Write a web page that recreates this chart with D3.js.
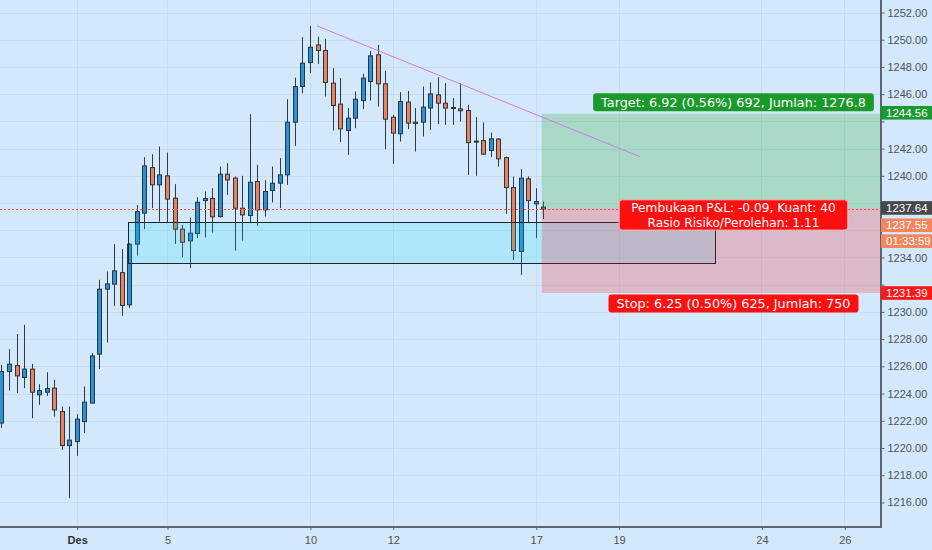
<!DOCTYPE html>
<html><head><meta charset="utf-8">
<script src="https://cdn.jsdelivr.net/npm/d3@7"></script>
<style>html,body{margin:0;padding:0;background:#d4e8fb;overflow:hidden}svg{display:block}</style>
</head><body><svg id="c" width="932" height="550"></svg>
<script>
// ---- data (4h candles, index 0 = first visible bar) ----
const opens  = [1221.83,1225.62,1226.06,1225.18,1225.80,1223.91,1224.10,1224.40,1222.68,1220.18,1220.47,1221.94,1223.30,1226.90,1231.67,1232.04,1232.89,1230.52,1234.98,1237.26,1240.61,1239.34,1240.00,1238.36,1236.08,1235.22,1235.76,1238.18,1238.33,1237.01,1240.12,1239.83,1237.62,1237.08,1239.58,1237.50,1238.92,1239.46,1240.07,1243.94,1246.56,1248.32,1249.62,1249.21,1246.81,1245.27,1243.33,1244.24,1245.53,1246.93,1248.89,1246.76,1244.31,1243.09,1245.42,1243.94,1243.94,1244.98,1245.95,1245.34,1245.02,1244.92,1244.80,1242.55,1242.59,1241.86,1242.70,1241.34,1239.14,1234.44,1239.78,1237.94,1237.70];
const highs  = [1226.11,1227.27,1228.37,1229.05,1226.18,1224.69,1225.57,1225.01,1223.05,1223.05,1222.49,1224.52,1226.97,1232.36,1232.97,1234.98,1234.61,1235.05,1237.85,1241.37,1241.59,1242.15,1241.71,1239.39,1236.40,1236.93,1238.43,1238.85,1239.09,1240.68,1240.93,1239.95,1240.00,1244.53,1240.81,1239.70,1240.68,1241.30,1245.63,1247.22,1250.19,1251.02,1250.23,1250.07,1247.91,1247.18,1244.98,1246.19,1247.49,1249.18,1249.62,1247.72,1244.48,1246.15,1246.24,1244.98,1246.56,1246.86,1247.25,1246.81,1245.71,1246.81,1245.22,1244.31,1243.92,1243.18,1242.77,1241.42,1239.95,1240.49,1239.95,1239.09,1238.11];
const lows   = [1221.48,1224.22,1224.03,1224.40,1222.19,1223.17,1223.83,1222.31,1219.86,1216.31,1219.42,1221.09,1223.30,1225.80,1227.75,1230.45,1229.71,1230.28,1234.14,1236.08,1237.62,1236.64,1236.57,1235.00,1234.02,1233.22,1235.42,1235.47,1235.83,1236.93,1238.60,1234.51,1235.24,1236.52,1236.33,1237.01,1238.04,1237.62,1239.34,1242.20,1246.07,1247.55,1248.21,1245.83,1243.33,1242.48,1241.54,1243.50,1244.90,1245.53,1245.09,1241.96,1240.88,1242.52,1243.43,1241.78,1242.89,1243.38,1243.80,1243.75,1243.75,1243.99,1240.07,1240.00,1241.54,1241.37,1240.68,1237.21,1233.82,1232.72,1236.52,1235.42,1236.82];
const closes = [1225.62,1226.16,1225.30,1225.80,1224.10,1224.22,1224.37,1222.80,1220.18,1220.58,1222.12,1223.37,1226.77,1231.67,1232.06,1233.02,1230.47,1234.98,1237.37,1240.73,1239.34,1240.07,1238.29,1236.08,1235.12,1235.79,1238.06,1238.33,1236.99,1240.12,1239.70,1237.62,1237.13,1239.53,1237.50,1238.85,1239.46,1240.07,1243.94,1246.56,1248.28,1249.45,1249.21,1246.86,1245.17,1243.45,1244.24,1245.63,1247.18,1248.82,1246.76,1244.16,1243.14,1245.46,1243.87,1243.84,1245.05,1246.02,1245.34,1244.98,1244.95,1244.78,1242.44,1242.48,1241.59,1242.72,1241.25,1239.14,1234.51,1239.83,1238.18,1238.11,1237.55];

const dayTickIndex  = [10, 22, 41, 52, 71, 82, 101, 112];
const dayTickLabels = ["Des", "5", "10", "12", "17", "19", "24", "26"];
const priceTicks = d3.range(1216, 1253, 2);

const zoneIdx = [16.86, 94.82];          // rectangle drawing
const zoneVal = [1236.64, 1233.63];
const trendIdx = [41.93, 84.86];         // trend line
const trendVal = [1251.02, 1241.40];
const positionStartIdx = 71.8;           // long position tool
const entryPrice = 1237.64, targetPrice = 1244.56, stopPrice = 1231.39;
const lastPrice = 1237.55;
const countdown = "01:33:59";
const targetText = "Target: 6.92 (0.56%) 692, Jumlah: 1276.8";
const infoLines = ["Pembukaan P&L: -0.09, Kuant: 40", "Rasio Risiko/Perolehan: 1.11"];
const stopText = "Stop: 6.25 (0.50%) 625, Jumlah: 750";

// ---- layout ----
const W = 932, H = 550, PW = 880, PH = 526;
const svg = d3.select("#c");
const x = d3.scaleLinear().domain([-0.1927, 116.75]).range([0, PW]);
const y = d3.scaleLinear().domain([1214.27, 1252.92]).range([PH, 0]);

svg.append("rect").attr("width", W).attr("height", H).attr("fill", "#d4e8fb");
svg.append("defs").append("clipPath").attr("id", "clip")
  .append("rect").attr("width", PW).attr("height", PH);
const plot = svg.append("g").attr("clip-path", "url(#clip)");

// grid
plot.append("g").selectAll("line").data(priceTicks).join("line")
  .attr("x1", 0).attr("x2", PW)
  .attr("y1", d => Math.round(y(d)) + 0.5).attr("y2", d => Math.round(y(d)) + 0.5)
  .attr("stroke", "#c6dcf2").attr("stroke-width", 1);
plot.append("g").selectAll("line").data(dayTickIndex).join("line")
  .attr("y1", 0).attr("y2", PH)
  .attr("x1", d => Math.round(x(d)) + 0.5).attr("x2", d => Math.round(x(d)) + 0.5)
  .attr("stroke", "#c6dcf2").attr("stroke-width", 1);

// candles
const idx = d3.range(opens.length);
const cg = plot.append("g");
cg.selectAll("line").data(idx).join("line")
  .attr("x1", i => Math.round(x(i)) + 0.5).attr("x2", i => Math.round(x(i)) + 0.5)
  .attr("y1", i => y(highs[i])).attr("y2", i => y(lows[i]))
  .attr("stroke", "#2f3a44").attr("stroke-width", 1);
cg.selectAll("rect").data(idx).join("rect")
  .attr("x", i => Math.round(x(i)) - 1.5).attr("width", 4)
  .attr("y", i => y(Math.max(opens[i], closes[i])))
  .attr("height", i => Math.max(1, Math.abs(y(opens[i]) - y(closes[i]))))
  .attr("fill", i => closes[i] >= opens[i] ? "#2a91d6" : "#e9825a")
  .attr("stroke", "#2b3540").attr("stroke-width", 1);

// zone rectangle
plot.append("rect")
  .attr("x", Math.round(x(zoneIdx[0])) + 0.5).attr("y", Math.round(y(zoneVal[0])) + 0.5)
  .attr("width", Math.round(x(zoneIdx[1]) - x(zoneIdx[0])))
  .attr("height", Math.round(y(zoneVal[1]) - y(zoneVal[0])))
  .attr("fill", "rgba(0,220,255,0.17)").attr("stroke", "#1d2328").attr("stroke-width", 1);

// long position
const px0 = x(positionStartIdx);
plot.append("rect").attr("x", px0).attr("y", y(targetPrice))
  .attr("width", PW - px0).attr("height", y(entryPrice) - y(targetPrice))
  .attr("fill", "rgba(0,160,0,0.21)");
plot.append("rect").attr("x", px0).attr("y", y(entryPrice))
  .attr("width", PW - px0).attr("height", y(stopPrice) - y(entryPrice))
  .attr("fill", "rgba(255,0,0,0.2)");

// trend line
plot.append("line")
  .attr("x1", x(trendIdx[0])).attr("y1", y(trendVal[0]))
  .attr("x2", x(trendIdx[1])).attr("y2", y(trendVal[1]))
  .attr("stroke", "#d77ad9").attr("stroke-width", 1);

// last price dotted line
plot.append("line").attr("x1", 0).attr("x2", PW)
  .attr("y1", Math.round(y(lastPrice)) + 0.5).attr("y2", Math.round(y(lastPrice)) + 0.5)
  .attr("stroke", "#ec5a3c").attr("stroke-width", 1).attr("stroke-dasharray", "2,2");

// labels on the position tool
const LF = "'DejaVu Sans', Verdana, sans-serif";
function tag(cx, cy, lines, fill, stroke, fs, lh, pad) {
  const g = svg.append("g");
  const texts = lines.map((t, k) => g.append("text")
    .attr("x", cx).attr("y", cy + (k - (lines.length - 1) / 2) * lh)
    .attr("dy", "0.36em").attr("text-anchor", "middle")
    .attr("font-family", LF).attr("font-size", fs).attr("fill", "#fff").text(t));
  const w = d3.max(texts, t => t.node().getComputedTextLength()) + pad;
  const h = lines.length * lh + (lines.length > 1 ? 1.5 : 5.5);
  g.insert("rect", "text").attr("x", cx - w / 2).attr("y", cy - h / 2)
    .attr("width", w).attr("height", h).attr("rx", 3)
    .attr("fill", fill).attr("stroke", stroke || "none").attr("stroke-width", 1);
}
tag(733.5, y(targetPrice) - 11.5, [targetText], "#1b9a2b", null, 12.8, 12.5, 16);
tag(733.5, y(entryPrice) + 7, infoLines, "#ff1010", "#f3b9bd", 12.2, 14.4, 24);
tag(733.5, y(stopPrice) + 10.5, [stopText], "#ff1010", null, 12.8, 12.5, 16);

// axes
const AF = "'Liberation Sans', Arial, sans-serif";
// tick labels covered by the price tags on the axis are not shown (as in the reference)
const coveredTicks = [1244, 1238, 1236, 1232];
const yAxis = d3.axisRight(y).tickValues(priceTicks)
  .tickFormat(d => coveredTicks.includes(d) ? "" : d3.format(".2f")(d))
  .tickSize(4).tickPadding(3);
const ya = svg.append("g").attr("transform", `translate(${PW + 0.5},0)`).call(yAxis);
ya.select(".domain").remove();
ya.selectAll("line").attr("stroke", "#5b6670");
ya.selectAll("text").attr("font-family", AF).attr("font-size", 11).attr("fill", "#4f5257");

const xAxis = d3.axisBottom(x).tickValues(dayTickIndex)
  .tickFormat((d, k) => dayTickLabels[k]).tickSize(4).tickPadding(6);
const xa = svg.append("g").attr("transform", `translate(0.5,${PH})`).call(xAxis);
xa.select(".domain").remove();
xa.selectAll("line").attr("stroke", "#5b6670");
xa.selectAll("text").attr("font-family", AF).attr("font-size", 11)
  .attr("font-weight", (d, k) => k === 0 ? "bold" : "normal")
  .attr("fill", (d, k) => k === 0 ? "#2c3036" : "#4f5257");

svg.append("line").attr("x1", PW + 1).attr("x2", PW + 1).attr("y1", 0).attr("y2", PH + 2)
  .attr("stroke", "#5b6670").attr("stroke-width", 2);
svg.append("line").attr("x1", 0).attr("x2", PW + 2).attr("y1", PH + 1).attr("y2", PH + 1)
  .attr("stroke", "#5b6670").attr("stroke-width", 2);

// price tags on the right axis
function ptag(cy, text, fill) {
  const g = svg.append("g");
  g.append("rect").attr("x", PW + 1).attr("y", cy - 6.8).attr("width", W - PW - 1).attr("height", 13.6)
    .attr("fill", fill);
  g.append("text").attr("x", PW + 6).attr("y", cy).attr("dy", "0.35em")
    .attr("font-family", AF).attr("font-size", 11.5).attr("fill", "#fff").text(text);
}
ptag(y(targetPrice) - 1, targetPrice.toFixed(2), "#1a9a30");
ptag(y(entryPrice), entryPrice.toFixed(2), "#474849");
ptag(y(entryPrice) + 17.3, lastPrice.toFixed(2), "#f3865c");
ptag(y(entryPrice) + 33.2, countdown, "#f3865c");
ptag(y(stopPrice), stopPrice.toFixed(2), "#ff1616");
</script></body></html>
